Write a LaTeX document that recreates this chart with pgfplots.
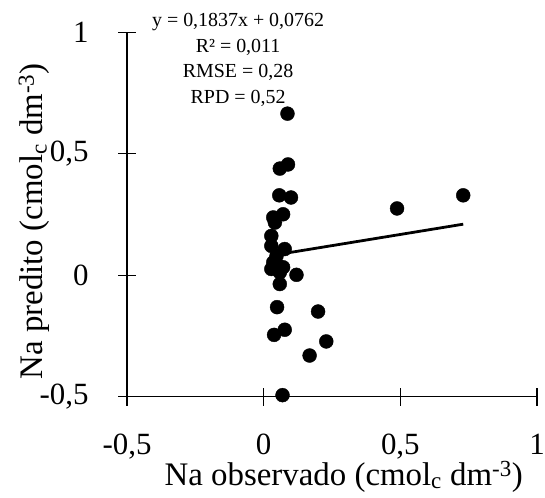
\documentclass[border=0pt]{standalone}
\usepackage{pgfplots}
\pgfplotsset{compat=1.18}
\usepackage{fontspec}
\setmainfont{Liberation Serif}
\begin{document}
\begin{tikzpicture}
\begin{axis}[
  scale only axis,
  width=411.5pt, height=366pt,
  xmin=-0.5, xmax=1, ymin=-0.5, ymax=1,
  axis x line*=bottom, axis y line*=left,
  axis line style={line width=1.2pt},
  xtick={-0.5,0,0.5,1}, ytick={-0.5,0,0.5,1},
  xticklabels={{-0,5},0,{0,5},1},
  yticklabels={{-0,5},0,{0,5},1},
  tick align=center,
  major tick length=18pt,
  tick style={line width=1.2pt, black},
  ticklabel style={font=\fontsize{31}{31}\selectfont, inner sep=0pt},
  xticklabel style={anchor=base, yshift=-48.4pt},
  yticklabel style={anchor=east, xshift=-29.5pt},
  label style={font=\fontsize{33}{33}\selectfont},
  xlabel={Na observado (cmol\textsubscript{c} dm\textsuperscript{-3})},
  ylabel={Na predito (cmol\textsubscript{c} dm\textsuperscript{-3})},
  xlabel style={at={(axis description cs:0.5286,-0.2423)}, anchor=base},
  ylabel style={at={(axis description cs:-0.2053,0.4817)}, anchor=base},
  clip=false,
]
\addplot[only marks, mark=*, mark size=7pt, black] coordinates {
(0.087,0.665) (0.059,0.439) (0.089,0.456) (0.057,0.329) (0.10,0.32)
(0.071,0.251) (0.035,0.238) (0.041,0.217) (0.028,0.162) (0.028,0.121)
(0.077,0.108) (0.047,0.08) (0.035,0.053) (0.053,0.039) (0.028,0.026)
(0.071,0.033) (0.12,0.002) (0.059,0.012) (0.059,-0.036) (0.049,-0.131)
(0.199,-0.149) (0.077,-0.224) (0.038,-0.245) (0.229,-0.272) (0.168,-0.33)
(0.069,-0.493) (0.488,0.275) (0.73,0.329)
};
\addplot[black, line width=2.8pt, no marks] coordinates {(0.028,0.0813) (0.73,0.2103)};
\node[align=center, font=\fontsize{20}{25.7}\selectfont, inner sep=0pt] at (axis cs:-0.0937,0.8865)
  {y = 0,1837x + 0,0762\\R² = 0,011\\RMSE = 0,28\\RPD = 0,52};
\coordinate (bbsw) at (axis description cs:-0.3098,-0.2751);
\coordinate (bbne) at (axis description cs:1.0195,1.0883);
\end{axis}
\pgfresetboundingbox
\path[use as bounding box] (bbsw) rectangle (bbne);
\end{tikzpicture}
\end{document}
